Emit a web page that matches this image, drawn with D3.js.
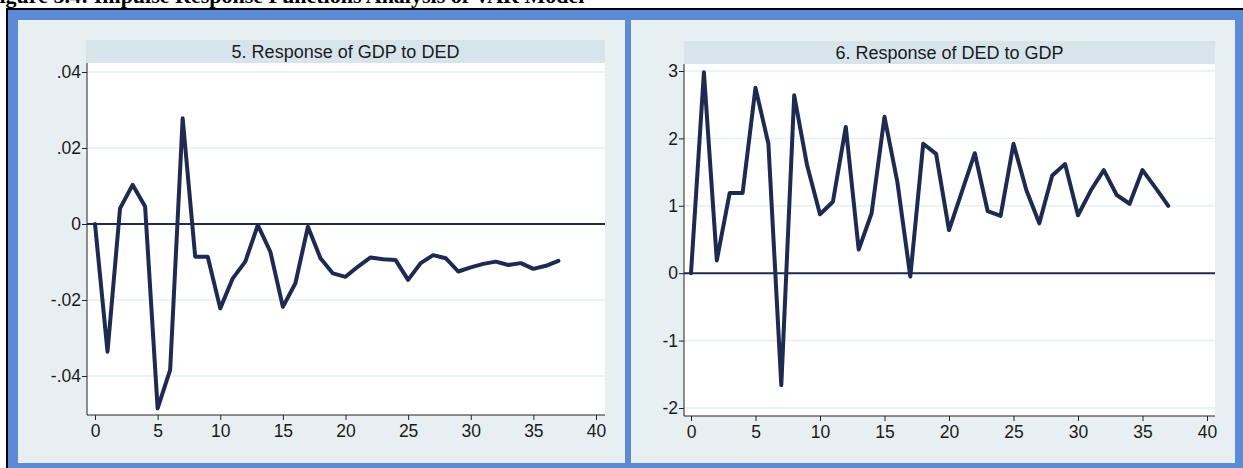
<!DOCTYPE html>
<html>
<head>
<meta charset="utf-8">
<script src="https://cdn.jsdelivr.net/npm/d3@7"></script>
<style>
  html, body { margin: 0; padding: 0; background: #ffffff; }
  svg { display: block; }
</style>
</head>
<body>
<svg id="chart" width="1243" height="468"></svg>
<script>
// ---------- data ----------
const periods = d3.range(0, 38);

const gdpToDed = [
  0, -0.0336, 0.0041, 0.0103, 0.0046, -0.0485, -0.0384, 0.0278, -0.0086, -0.0086,
  -0.0222, -0.0143, -0.0099, -0.0003, -0.0073, -0.0218, -0.0156, -0.0007, -0.0090, -0.0130,
  -0.0139, -0.0112, -0.0088, -0.0093, -0.0095, -0.0147, -0.0103, -0.0082, -0.0090, -0.0125,
  -0.0114, -0.0105, -0.0099, -0.0108, -0.0103, -0.0118, -0.0110, -0.0097
];

const dedToGdp = [
  0, 2.98, 0.19, 1.19, 1.19, 2.75, 1.92, -1.66, 2.64, 1.60,
  0.875, 1.06, 2.17, 0.35, 0.89, 2.32, 1.35, -0.05, 1.92, 1.77,
  0.64, 1.21, 1.78, 0.92, 0.85, 1.92, 1.23, 0.74, 1.45, 1.62,
  0.86, 1.23, 1.53, 1.16, 1.03, 1.53, 1.27, 1.00
];

const xTicks = [0, 5, 10, 15, 20, 25, 30, 35, 40];
const yTicksLeft = [-0.04, -0.02, 0, 0.02, 0.04];
const yTickLabelsLeft = ["-.04", "-.02", "0", ".02", ".04"];
const yTicksRight = [-2, -1, 0, 1, 2, 3];
const yTickLabelsRight = ["-2", "-1", "0", "1", "2", "3"];

const titles = ["5. Response of GDP to DED", "6. Response of DED to GDP"];
const caption = "Figure 5.4:  Impulse Response Functions  Analysis of VAR Model";

// ---------- styles ----------
const COL_FRAME = "#5a8bd4";
const COL_PANEL = "#e8eff2";
const COL_STRIP = "#d8e4eb";
const COL_LINE = "#1e2a50";
const COL_GRID = "#e6eff1";
const FONT = "'Liberation Sans', Arial, sans-serif";

const svg = d3.select("#chart");

// caption (clipped at top, as in the reference)
svg.append("text")
  .attr("x", -14).attr("y", 3)
  .attr("font-family", "'Liberation Serif', 'Times New Roman', serif")
  .attr("font-weight", "bold")
  .attr("font-size", 22)
  .attr("fill", "#000")
  .text(caption);

// outer frame
svg.append("rect").attr("x", 6).attr("y", 8).attr("width", 1243).attr("height", 470).attr("fill", "#000");
svg.append("rect").attr("x", 8).attr("y", 10).attr("width", 1243).attr("height", 470).attr("fill", COL_FRAME);

const panels = [
  {
    panel: [18, 20, 625, 463],
    strip: [86, 40, 605, 63],
    plot: [87, 63, 605, 415],
    xRange: [95, 596],
    yDomain: [-0.04, 0.04], yRange: [376, 72],
    yTicks: yTicksLeft, yLabels: yTickLabelsLeft,
    data: gdpToDed, title: titles[0]
  },
  {
    panel: [631, 20, 1235, 463],
    strip: [684, 41, 1215, 64],
    plot: [684, 64, 1215, 416],
    xRange: [691, 1207],
    yDomain: [-2, 3], yRange: [408, 71],
    yTicks: yTicksRight, yLabels: yTickLabelsRight,
    data: dedToGdp, title: titles[1]
  }
];

panels.forEach(p => {
  const g = svg.append("g");
  g.append("rect")
    .attr("x", p.panel[0]).attr("y", p.panel[1])
    .attr("width", p.panel[2] - p.panel[0]).attr("height", p.panel[3] - p.panel[1])
    .attr("fill", COL_PANEL);
  g.append("rect")
    .attr("x", p.strip[0]).attr("y", p.strip[1])
    .attr("width", p.strip[2] - p.strip[0]).attr("height", p.strip[3] - p.strip[1])
    .attr("fill", COL_STRIP);
  g.append("text")
    .attr("x", (p.strip[0] + p.strip[2]) / 2)
    .attr("y", p.strip[1] + 17.5)
    .attr("text-anchor", "middle")
    .attr("font-family", FONT)
    .attr("font-size", 18)
    .attr("fill", "#1a1a1a")
    .text(p.title);
  g.append("rect")
    .attr("x", p.plot[0]).attr("y", p.plot[1])
    .attr("width", p.plot[2] - p.plot[0]).attr("height", p.plot[3] - p.plot[1])
    .attr("fill", "#ffffff");

  const x = d3.scaleLinear().domain([0, 40]).range(p.xRange);
  const y = d3.scaleLinear().domain(p.yDomain).range(p.yRange);

  // gridlines
  g.selectAll("line.grid").data(p.yTicks.filter(v => v !== 0)).enter()
    .append("line").attr("class", "grid")
    .attr("x1", p.plot[0]).attr("x2", p.plot[2])
    .attr("y1", d => y(d)).attr("y2", d => y(d))
    .attr("stroke", COL_GRID).attr("stroke-width", 1.5);

  // zero line
  g.append("line")
    .attr("x1", p.plot[0]).attr("x2", p.plot[2])
    .attr("y1", y(0)).attr("y2", y(0))
    .attr("stroke", COL_LINE).attr("stroke-width", 2);

  // y axis
  const yAxis = d3.axisLeft(y)
    .tickValues(p.yTicks)
    .tickFormat((d, i) => p.yLabels[i])
    .tickSize(5).tickSizeOuter(0);
  const ya = g.append("g").attr("transform", `translate(${p.plot[0]},0)`).call(yAxis);
  ya.select(".domain").attr("d", `M0,${p.plot[1]}V${p.plot[3]}`).attr("stroke", "#222");
  ya.selectAll(".tick line").attr("stroke", "#222");
  ya.selectAll(".tick text").attr("font-family", FONT).attr("font-size", 17.5).attr("fill", "#1a1a1a").attr("x", -6);

  // x axis
  const xAxis = d3.axisBottom(x).tickValues(xTicks).tickSize(5).tickSizeOuter(0);
  const xa = g.append("g").attr("transform", `translate(0,${p.plot[3]})`).call(xAxis);
  xa.select(".domain").attr("d", `M${p.plot[0]},0H${p.plot[2]}`).attr("stroke", "#222");
  xa.selectAll(".tick line").attr("stroke", "#222");
  xa.selectAll(".tick text").attr("font-family", FONT).attr("font-size", 17.5).attr("fill", "#1a1a1a").attr("y", 10);

  // series line
  const line = d3.line().x((d, i) => x(periods[i])).y(d => y(d));
  g.append("path")
    .datum(p.data)
    .attr("d", line)
    .attr("fill", "none")
    .attr("stroke", COL_LINE)
    .attr("stroke-width", 4)
    .attr("stroke-linejoin", "round")
    .attr("stroke-linecap", "round");
});
</script>
</body>
</html>
